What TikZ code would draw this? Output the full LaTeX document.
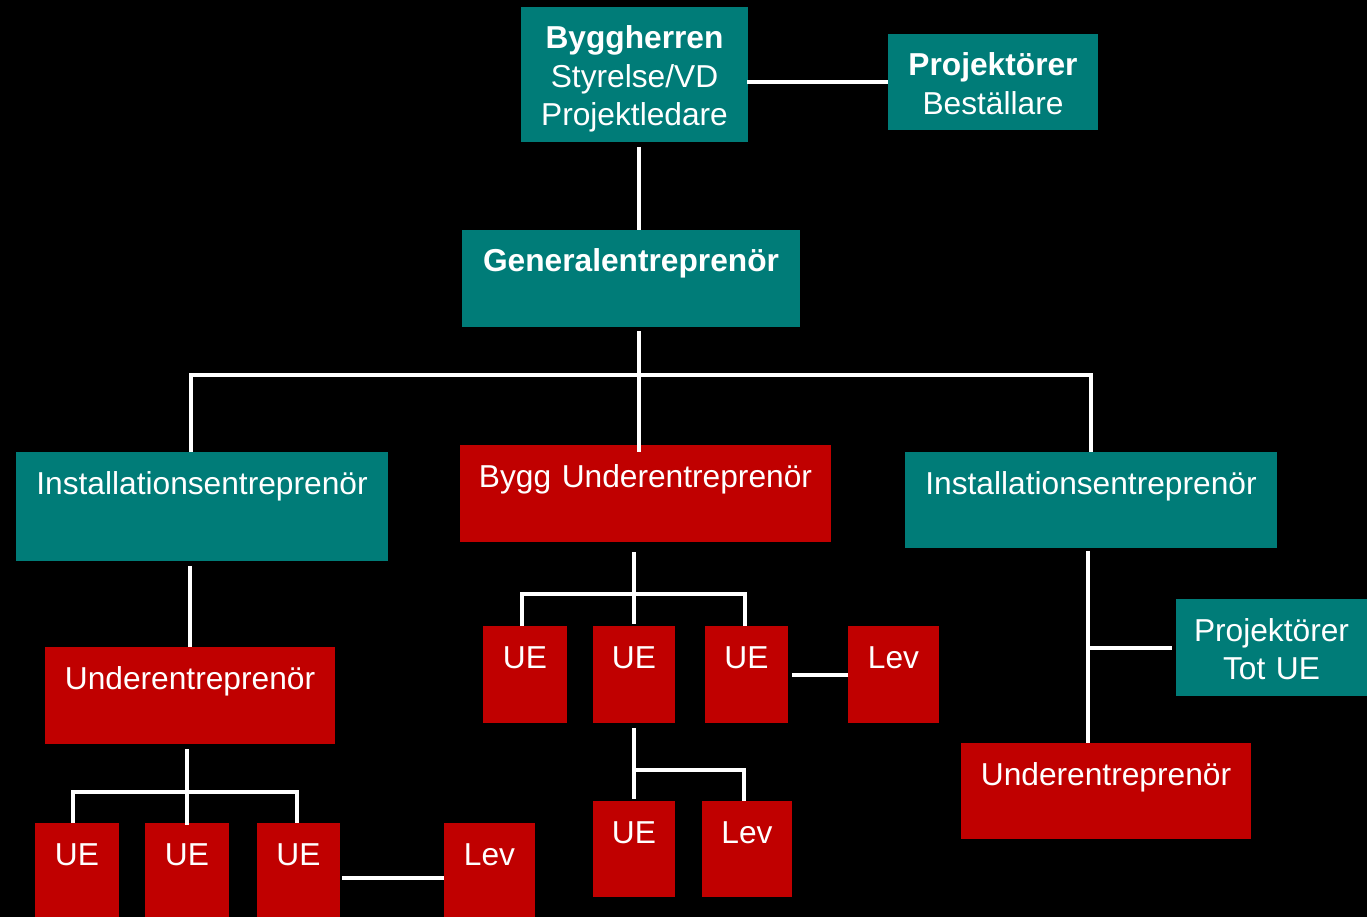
\documentclass[tikz,border=0pt]{standalone}
\usepackage{fontspec}
\setmainfont{Liberation Sans}
\usepackage{tikz}
\usetikzlibrary{calc}

\definecolor{orgteal}{RGB}{0,124,120}
\definecolor{orgred}{RGB}{192,0,0}

\begin{document}
\begin{tikzpicture}[x=1pt,y=-1pt,
  orgbox/.style={anchor=north west, inner sep=0pt, outer sep=0pt, align=center,
    text=white, text height=42pt, font=\fontsize{31.7}{38.5}\selectfont},
  tealbox/.style={orgbox, fill=orgteal},
  redbox/.style={orgbox, fill=orgred},
  conn/.style={draw=white, line width=4pt}]

\fill[black] (0,0) rectangle (1367,917);
\useasboundingbox (0,0) rectangle (1367,917);

%--------------------------------------------------- top
\node (bygg) at (521,7) [tealbox, text width=227pt, text depth=93pt] {\textbf{Byggherren}\\Styrelse/VD\\Projektledare};
\node (proj) at (888,34) [tealbox, text width=210pt, text depth=54pt] {\textbf{Projektörer}\\Beställare};
\node (gen) at (462,230) [tealbox, text width=338pt, text depth=55pt] {\textbf{Generalentreprenör}};

%--------------------------------------------------- second level
\node (instL) at (16,452) [tealbox, text width=372pt, text depth=67pt] {Installationsentreprenör};
\node (byggue) at (460,445) [redbox, text width=371pt, text depth=55pt] {Bygg Underentreprenör};
\node (instR) at (905,452) [tealbox, text width=372pt, text depth=54pt] {Installationsentreprenör};

%--------------------------------------------------- left branch
\node (undL) at (45,647) [redbox, text width=290pt, text depth=55pt] {Underentreprenör};
\node (ue5) at (35,823) [redbox, text width=84pt, text depth=68pt] {UE};
\node (ue6) at (145,823) [redbox, text width=84pt, text depth=68pt] {UE};
\node (ue7) at (257,823) [redbox, text width=83pt, text depth=68pt] {UE};
\node (lev3) at (444,823) [redbox, text width=91pt, text depth=68pt] {Lev};

%--------------------------------------------------- middle branch
\node (ue1) at (483,626) [redbox, text width=84pt, text depth=55pt] {UE};
\node (ue2) at (593,626) [redbox, text width=82pt, text depth=55pt] {UE};
\node (ue3) at (705,626) [redbox, text width=83pt, text depth=55pt] {UE};
\node (lev1) at (848,626) [redbox, text width=91pt, text depth=55pt] {Lev};
\node (ue4) at (593,801) [redbox, text width=82pt, text depth=54pt] {UE};
\node (lev2) at (702,801) [redbox, text width=90pt, text depth=54pt] {Lev};

%--------------------------------------------------- right branch
\node (projUE) at (1176,599) [tealbox, text width=191pt, text depth=55pt] {Projektörer\\Tot UE};
\node (undR) at (961,743) [redbox, text width=290pt, text depth=54pt] {Underentreprenör};

%--------------------------------------------------- connectors
\coordinate (gejunc) at (639,375);
\coordinate (lbar) at (191,375);
\coordinate (cjunc) at (634,594);
\coordinate (djunc) at (634,770);
\coordinate (ljunc) at (187,792);

\draw[conn] (proj.west) -- ([xshift=-1]proj.west -| bygg.east);
\draw[conn] ([yshift=-5]bygg.south -| gejunc) -- (gen.north -| gejunc);
\draw[conn] ([yshift=-4]gen.south -| gejunc) -- (gejunc |- instL.north);
\draw[conn] (instL.north -| lbar) |- (gejunc) -| (instR.north);

\draw[conn] ([yshift=-5]instL.south -| undL.north) -- (undL.north);
\draw[conn] ([yshift=-5]undL.south -| ljunc) -- ([yshift=-2]ue6.north -| ljunc);
\draw[conn] ([xshift=-4]ue5.north) |- (ljunc) -| ([xshift=-2]ue7.north);
\draw[conn] (lev3.west) -- ([xshift=2]lev3.west -| ue7.east);

\draw[conn] ([yshift=-10]byggue.south -| ue2.north) -- ([yshift=2]ue2.north);
\draw[conn] ([xshift=-3]ue1.north) |- (cjunc) -| ([xshift=-2]ue3.north);
\draw[conn] (lev1.west) -- ([xshift=4]lev1.west -| ue3.east);
\draw[conn] ([yshift=-5]ue2.south) -- ([yshift=2]ue4.north);
\draw[conn] (djunc) -| ([xshift=-3]lev2.north);

\draw[conn] ([xshift=-3,yshift=-3]instR.south) -- ([xshift=-3]undR.north -| instR.south);
\draw[conn] ([xshift=-3]projUE.west -| instR.south) -- ([xshift=-4]projUE.west);

\end{tikzpicture}
\end{document}
